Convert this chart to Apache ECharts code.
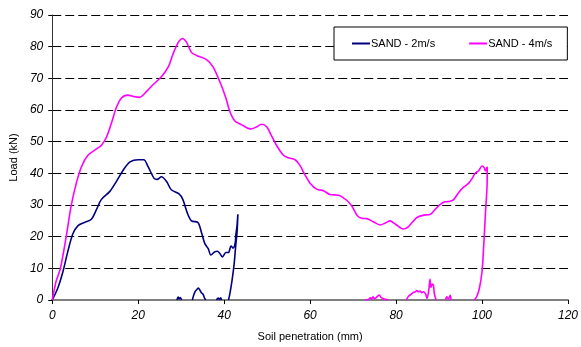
<!DOCTYPE html>
<html>
<head>
<meta charset="utf-8">
<script src="https://cdn.jsdelivr.net/npm/echarts@6/dist/echarts.min.js"></script>
<style>
  html, body { margin: 0; padding: 0; background: #fff; }
  #chart { width: 581px; height: 347px; }
</style>
</head>
<body>
<div id="chart"></div>
<script>
// Penetration (mm) and load (kN) for each impact test; null marks a break in the trace
const sand2X = [0, 1.3, 2.5, 3.6, 4.8, 6.0, 7.5, 9.1, 10.3, 11.4, 13.4, 14.9, 16.5, 18.1, 20.0, 21.3, 22.3, 23.7, 24.4, 25.4, 26.6, 27.7, 29.5, 30.4, 31.4, 32.4, 33.9, 34.7, 35.5, 36.3, 36.9, 37.8, 38.4, 39.0, 39.6, 40.4, 41.0, 41.6, 42.1, 42.6, 42.7, 43.0, 43.2, 43.0, 42.7, 42.3, 41.8, 41.3, 41.0,
  null,
  29.0, 29.3, 29.5, 29.8, 30.1,
  null,
  32.6, 32.9, 33.3, 33.7, 34.0, 34.4, 34.7, 35.1, 35.4, 35.7,
  null,
  38.2, 38.6, 38.9, 39.2, 39.4];
const sand2Load = [0, 3.8, 9.0, 15.2, 20.9, 23.5, 24.5, 25.5, 28.6, 31.7, 34.3, 37.4, 41.0, 43.6, 44.3, 44.3, 42.1, 38.4, 38.1, 38.9, 37.4, 34.8, 33.5, 31.7, 27.6, 25.0, 24.5, 21.4, 17.8, 16.2, 14.2, 15.2, 15.4, 14.7, 13.6, 15.0, 15.0, 17.0, 16.4, 18.3, 20.4, 23.5, 27.1, 21.4, 17.3, 11.1, 5.9, 1.8, 0,
  null,
  0, 0.9, 0.3, 0.8, 0,
  null,
  0, 1.5, 2.8, 3.4, 3.8, 3.0, 2.3, 1.8, 0.7, 0,
  null,
  0, 0.6, 0.2, 0.7, 0];

const sand4X = [0, 0.9, 1.9, 3.3, 4.4, 5.6, 6.8, 8.3, 10.3, 11.4, 12.6, 13.8, 14.9, 16.1, 17.6, 18.8, 20.3, 21.9, 23.4, 25.4, 27.0, 28.1, 29.3, 30.3, 31.2, 32.4, 33.6, 35.9, 37.4, 39.0, 40.4, 41.3, 42.5, 44.1, 46.2, 47.6, 48.7, 49.9, 51.0, 52.2, 53.8, 54.9, 56.5, 57.6, 58.8, 60.0, 61.5, 63.1, 64.6, 66.6, 68.5, 69.7, 70.9, 72.0, 73.2, 74.7, 76.3, 77.5, 78.6, 79.8, 81.7, 82.9, 84.8, 86.4, 87.9, 89.1, 90.3, 91.4, 92.6, 93.4, 94.5, 95.3, 96.9, 97.7, 98.4, 99.2, 100.0, 100.5, 100.8, 101.2, 101.2, 100.8, 100.4, 100.0, 99.4, 98.8, 98.2,
  null,
  72.8, 73.6, 74.0, 74.3, 74.6, 75.0, 75.4, 75.7, 76.1, 76.5, 76.9, 77.5, 78.2,
  null,
  82.4, 82.9, 83.5, 83.9, 84.5, 84.8, 85.2, 85.6, 86.0, 86.4, 86.9, 87.2, 87.6, 87.9, 88.1, 88.4, 88.7, 88.9, 89.3,
  null,
  91.5, 91.8, 92.2, 92.6, 92.8];
const sand4Load = [0, 5.9, 10.0, 20.4, 29.7, 36.9, 42.1, 45.7, 47.7, 48.8, 51.4, 56.0, 60.7, 63.8, 64.7, 64.3, 64.0, 65.8, 67.9, 70.5, 73.6, 77.7, 81.3, 82.6, 81.5, 78.2, 77.2, 75.9, 73.6, 68.9, 63.8, 59.6, 56.5, 55.3, 54.0, 54.7, 55.5, 54.7, 51.9, 48.8, 45.7, 44.9, 44.3, 42.6, 39.5, 36.9, 35.0, 34.5, 33.3, 33.1, 31.5, 29.7, 26.8, 25.8, 25.7, 24.7, 23.7, 24.3, 25.0, 24.0, 22.4, 23.2, 26.0, 26.8, 27.0, 28.6, 30.2, 31.0, 31.2, 31.7, 33.8, 35.1, 36.9, 38.4, 40.0, 40.8, 42.3, 41.8, 40.8, 42.1, 37.9, 27.6, 17.3, 9.0, 3.8, 1.2, 0,
  null,
  0, 0.2, 0.7, 0.3, 1.0, 0.4, 0.8, 1.2, 1.6, 0.8, 0.5, 0.2, 0,
  null,
  0, 1.2, 1.8, 2.3, 2.6, 3.0, 2.6, 2.8, 2.3, 2.6, 1.8, 0.5, 3.0, 6.5, 4.0, 5.0, 4.6, 2.0, 0,
  null,
  0, 1.0, 0.3, 1.5, 0];

const seriesNames = ['SAND - 2m/s', 'SAND - 4m/s'];
const xTicks = [0, 20, 40, 60, 80, 100, 120];
const yTicks = [0, 10, 20, 30, 40, 50, 60, 70, 80, 90];

// Pair x with load; a null becomes a gap in the line
function pairs(xs, ys) {
  return xs.map((x, i) => (x === null || ys[i] === null) ? ['-', '-'] : [x, ys[i]]);
}

const FONT = '"Liberation Sans", Arial, sans-serif';
const chart = echarts.init(document.getElementById('chart'), null, { renderer: 'canvas' });

chart.setOption({
  animation: false,
  backgroundColor: '#ffffff',
  grid: { left: 52, right: 13, top: 15, bottom: 41, containLabel: false },
  legend: {
    data: seriesNames,
    left: 334,
    top: 27,
    orient: 'horizontal',
    icon: 'rect',
    itemWidth: 18,
    itemHeight: 2,
    itemGap: 34,
    padding: [11, 15, 11, 18],
    backgroundColor: '#ffffff',
    borderColor: '#000000',
    borderWidth: 1,
    borderRadius: 0,
    textStyle: { fontFamily: FONT, fontSize: 11, color: '#000000', padding: [0, 0, 0, -4] }
  },
  xAxis: {
    type: 'value',
    min: xTicks[0],
    max: xTicks[xTicks.length - 1],
    interval: 20,
    name: 'Soil penetration (mm)',
    nameLocation: 'middle',
    nameGap: 31,
    nameTextStyle: { fontFamily: FONT, fontSize: 11, color: '#000000' },
    axisLine: { lineStyle: { color: '#808080', width: 2 } },
    axisTick: { show: true, inside: false, length: 4, lineStyle: { color: '#000000', width: 1 } },
    axisLabel: { fontFamily: FONT, fontSize: 12, fontStyle: 'italic', color: '#000000', margin: 10 },
    splitLine: { show: false }
  },
  yAxis: {
    type: 'value',
    min: yTicks[0],
    max: yTicks[yTicks.length - 1],
    interval: 10,
    name: 'Load (kN)',
    nameLocation: 'middle',
    nameGap: 31,
    nameRotate: 90,
    nameTextStyle: { fontFamily: FONT, fontSize: 11, color: '#000000' },
    axisLine: { show: true, lineStyle: { color: '#333333', width: 1 } },
    axisTick: { show: true, inside: false, length: 4, lineStyle: { color: '#000000', width: 1 } },
    axisLabel: { fontFamily: FONT, fontSize: 12, fontStyle: 'italic', color: '#000000', margin: 9 },
    splitLine: { show: true, lineStyle: { color: '#000000', width: 1, type: [9, 4] } }
  },
  series: [
    {
      name: seriesNames[0],
      type: 'line',
      data: pairs(sand2X, sand2Load),
      smooth: 0.3,
      showSymbol: false,
      symbol: 'none',
      connectNulls: false,
      itemStyle: { color: '#000080' },
      lineStyle: { color: '#000080', width: 1.6 },
      z: 3
    },
    {
      name: seriesNames[1],
      type: 'line',
      data: pairs(sand4X, sand4Load),
      smooth: 0.3,
      showSymbol: false,
      symbol: 'none',
      connectNulls: false,
      itemStyle: { color: '#FF00FF' },
      lineStyle: { color: '#FF00FF', width: 1.6 },
      z: 3
    }
  ]
});
</script>
</body>
</html>
